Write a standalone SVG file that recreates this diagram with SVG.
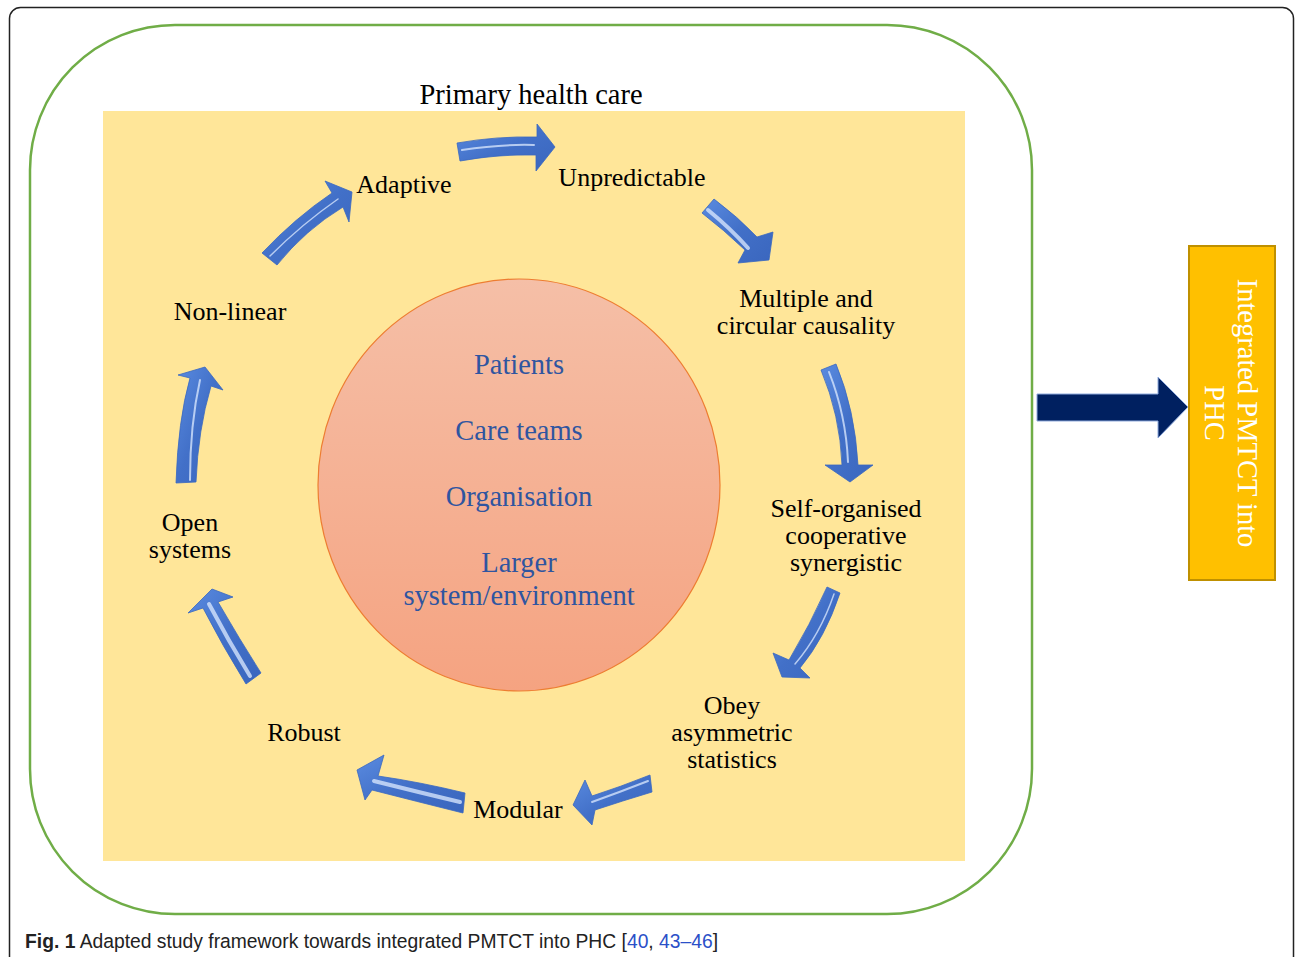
<svg xmlns="http://www.w3.org/2000/svg" width="1295" height="957" viewBox="0 0 1295 957">
<style>
.lbl{font-family:"Liberation Serif","Times New Roman",serif;font-size:26px;fill:#000;text-anchor:middle}
.inner{font-family:"Liberation Serif","Times New Roman",serif;font-size:28.5px;fill:#2F55A0;text-anchor:middle}
.arr{fill:url(#blueGrad);stroke:#3A68C0;stroke-width:0.8;stroke-linejoin:round}
.hl{fill:none;stroke:#DDEBFF;stroke-width:3;stroke-linecap:round;opacity:0.75}
.cap{font-family:"Liberation Sans",Arial,sans-serif;font-size:19.3px;fill:#222}
.rot{font-family:"Liberation Serif","Times New Roman",serif;font-size:28.5px;fill:#fff;text-anchor:middle}
</style>
<defs>
<linearGradient id="blueGrad" x1="0" y1="0" x2="1" y2="1">
<stop offset="0" stop-color="#5A8BE0"/>
<stop offset="0.5" stop-color="#4270C8"/>
<stop offset="1" stop-color="#3A66BE"/>
</linearGradient>
<linearGradient id="circGrad" x1="0" y1="0" x2="0" y2="1">
<stop offset="0" stop-color="#F5BFA7"/>
<stop offset="1" stop-color="#F5A381"/>
</linearGradient>
</defs>
<rect x="0" y="0" width="1295" height="957" fill="#fff"/>
<rect x="9.5" y="7.5" width="1284" height="1000" rx="11" fill="none" stroke="#222" stroke-width="1.5"/>
<rect id="frame" x="30" y="25" width="1002" height="889" rx="145" ry="145" fill="#fff" stroke="#70AD47" stroke-width="2.5"/>
<rect id="phc-area" x="103" y="111" width="862" height="750" fill="#FFE699"/>
<text class="lbl" x="531" y="104" style="font-size:28.5px">Primary health care</text>

<g id="core">
<ellipse cx="519" cy="485" rx="201" ry="206" fill="url(#circGrad)" stroke="#ED7D31" stroke-width="1.2"/>
<text class="inner" x="519" y="374">Patients</text>
<text class="inner" x="519" y="440">Care teams</text>
<text class="inner" x="519" y="506">Organisation</text>
<text class="inner" x="519" y="572">Larger</text>
<text class="inner" x="519" y="605">system/environment</text>
</g>

<g id="n-adaptive"><text class="lbl" x="404" y="193">Adaptive</text></g>
<g id="n-unpredictable"><text class="lbl" x="632" y="186">Unpredictable</text></g>
<g id="n-multiple"><text class="lbl" x="806" y="307">Multiple and</text><text class="lbl" x="806" y="334">circular causality</text></g>
<g id="n-self"><text class="lbl" x="846" y="517">Self-organised</text><text class="lbl" x="846" y="544">cooperative</text><text class="lbl" x="846" y="571">synergistic</text></g>
<g id="n-obey"><text class="lbl" x="732" y="714">Obey</text><text class="lbl" x="732" y="741">asymmetric</text><text class="lbl" x="732" y="768">statistics</text></g>
<g id="n-modular"><text class="lbl" x="518" y="818">Modular</text></g>
<g id="n-robust"><text class="lbl" x="304" y="741">Robust</text></g>
<g id="n-open"><text class="lbl" x="190" y="531">Open</text><text class="lbl" x="190" y="558">systems</text></g>
<g id="n-nonlinear"><text class="lbl" x="230" y="320">Non-linear</text></g>

<g id="connectors">
<path class="arr" d="M457,143 Q497,136 537,137 L537,124 L555,147 L536,171 L536,155 Q498,154 460,161 Z"/>
<path class="hl" d="M462,150 Q500,144 534,145" style="stroke-width:2"/>
<path class="arr" d="M702,213 L714,199 Q738,217 757,237 L773,232 L769,260 L738,263 L745,250 Q724,230 702,213 Z"/>
<path class="hl" d="M708,210 Q730,228 748,248" style="stroke-width:4"/>
<path class="arr" d="M821,370 L836,364 Q855,410 858,465 L873,465 L850,482 L825,465 L842,465 Q840,415 821,370 Z"/>
<path class="hl" d="M829,372 Q846,415 848,462" style="stroke-width:2"/>
<path class="arr" d="M827,587 L840,593 Q825,638 800,668 L810,678 L782,677 L773,653 L789,660 Q810,625 827,587 Z"/>
<path class="hl" d="M834,594 Q820,635 795,664" style="stroke-width:1.5"/>
<path class="arr" d="M650,775 L652,792 Q622,801 595,810 L592,825 L573,805 L585,780 L592,796 Q620,787 650,775 Z"/>
<path class="hl" d="M648,781 Q620,792 592,802" style="stroke-width:2"/>
<path class="arr" d="M465,793 L463,813 Q415,801 372,790 L365,800 L357,770 L384,755 L378,776 Q420,782 465,793 Z"/>
<path class="hl" d="M460,802 Q418,792 374,781" style="stroke-width:4"/>
<path class="arr" d="M246,684 L261,673 Q240,640 218,602 L233,597 L212,589 L188,613 L203,608 Q222,645 246,684 Z"/>
<path class="hl" d="M250,676 Q228,640 209,604" style="stroke-width:4"/>
<path class="arr" d="M176,483 Q178,420 190,378 L178,375 L205,367 L223,390 L211,386 Q198,430 196,482 Z"/>
<path class="hl" d="M190,480 Q190,425 200,380" style="stroke-width:2"/>
<path class="arr" d="M262,253 Q295,218 332,193 L325,181 L352,192 L349,222 L343,207 Q305,230 277,265 Z"/>
<path class="hl" d="M270,256 Q302,224 338,199" style="stroke-width:1.5"/>
<path id="to-outcome" d="M1037,394 L1158,394 L1158,377 L1188,407 L1158,438 L1158,421 L1037,421 Z" fill="#002060" stroke="#8FAADC" stroke-width="1"/>
</g>

<g id="outcome">
<rect x="1189" y="246" width="86" height="334" fill="#FFC000" stroke="#BF9000" stroke-width="2"/>
<text class="rot" transform="translate(1238,413) rotate(90)">Integrated PMTCT into</text>
<text class="rot" transform="translate(1205,413) rotate(90)">PHC</text>
</g>

<text class="cap" x="25" y="948"><tspan font-weight="bold">Fig. 1</tspan> Adapted study framework towards integrated PMTCT into PHC [<tspan fill="#2B50C8">40</tspan>, <tspan fill="#2B50C8">43–46</tspan>]</text>
</svg>
